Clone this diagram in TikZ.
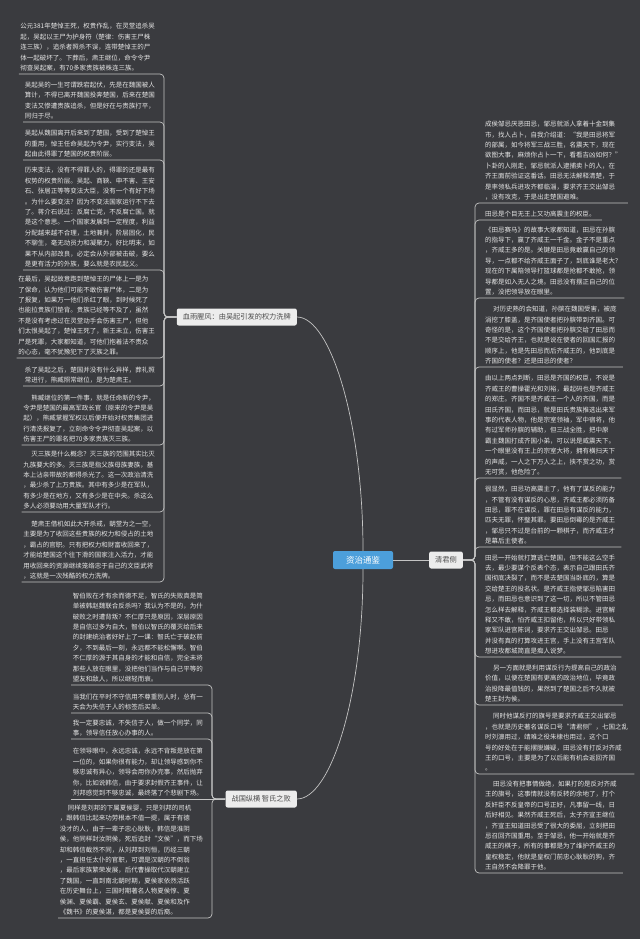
\documentclass[tikz,border=0pt]{standalone}
\usepackage{fontspec}
\setmainfont{Noto Sans CJK SC}
\usepackage{xcolor}
\usepackage{tikz}
\usetikzlibrary{positioning}

\definecolor{bgc}{HTML}{3A3B3F}
\definecolor{linec}{HTML}{C4C4C4}
\definecolor{notec}{HTML}{E6E6E6}
\definecolor{mainc}{HTML}{4C9FDB}
\definecolor{subc}{HTML}{ECECEC}
\newcommand{\firstind}{\hspace*{8pt}}

\begin{document}
\begin{tikzpicture}[
  x=1pt, y=-1pt,
  link/.style={draw=linec, line width=0.7pt, rounded corners=4pt},
  note/.style={font=\fontsize{6.5}{10.4}\selectfont, text=notec, align=left, inner xsep=0pt, inner ysep=2.6pt},
  lnote/.style={note, anchor=south east},
  rnote/.style={note, anchor=south west},
  topic/.style={fill=subc, text=black!70, rounded corners=2pt, font=\fontsize{7.2}{8}\selectfont, minimum height=17pt, inner xsep=6pt},
  central/.style={fill=mainc, text=white, rounded corners=2pt, font=\fontsize{8.5}{10}\selectfont, minimum height=18pt, minimum width=60pt}
]
\fill[bgc] (0,0) rectangle (640,939);
\useasboundingbox (0,0) rectangle (640,939);

% main topics
\node[central] (zz) at (363,560) {资治通鉴};
\node[topic, anchor=east] (xy) at (297,317) {血雨腥风：由吴起引发的权力洗牌};
\node[topic, anchor=east] (zj) at (297,799) {战国纵横 智氏之败};
\node[topic, anchor=west] (qjc) at (429,560) {清君侧};

\draw[link] (xy.east) .. controls +(33,0) and +(0,-130) .. (zz.north);
\draw[link] (zz.south) .. controls +(0,130) and +(33,0) .. (zj.east);
\draw[link] (zz.east) -- (qjc.west);

% 血雨腥风
\node[lnote] (a1) at (155,74) {公元381年楚悼王死，权贵作乱，在灵堂追杀吴\\起，吴起以王尸为护身符（楚律：伤害王尸株\\连三族），追杀者照杀不误，连带楚悼王的尸\\体一起破坏了。下葬后，肃王继位，命令令尹\\彻查吴起案，有70多家贵族被株连三族。};
\node[lnote] (a2) at (155,122) {吴起吴的一生可谓跌宕起伏，先是在魏国被人\\算计，不得已离开魏国投奔楚国，后来在楚国\\变法又惨遭贵族追杀，但是好在与贵族打平，\\同归于尽。};
\node[lnote] (a3) at (155,160) {吴起从魏国离开后来到了楚国，受到了楚悼王\\的重用，悼王任命吴起为令尹，实行变法，吴\\起由此得罪了楚国的权贵阶层。};
\node[lnote] (a4) at (155,270) {历来变法，没有不得罪人的，得罪的还是最有\\权势的权贵阶层。吴起、商鞅、申不害、王安\\石、张居正等等变法大臣，没有一个有好下场\\。为什么要变法？因为不变法国家运行不下去\\了。蒋介石说过：反腐亡党，不反腐亡国。就\\是这个意思。一个国家发展到一定程度，利益\\分配越来越不合理，土地兼并，阶层固化，民\\不聊生，毫无动员力和凝聚力，好比明末，如\\果不从内部改良，必定会从外部被击破，要么\\是更有活力的外族，要么就是农民起义。};
\node[lnote] (a5) at (155,358) {在最后，吴起故意跑到楚悼王的尸体上一是为\\了保命，认为他们可能不敢伤害尸体，二是为\\了报复，如果万一他们杀红了眼，到时候死了\\也能拉贵族们垫背。贵族已经等不及了，虽然\\不是没有考虑过在灵堂动手会伤害王尸，但他\\们太恨吴起了，楚悼王死了，新王未立，伤害王\\尸是死罪，大家都知道，可他们抱着法不责众\\的心态，毫不犹豫犯下了灭族之罪。};
\node[lnote] (a6) at (155,386) {杀了吴起之后，楚国并没有什么异样，葬礼照\\常进行，熊臧照常继位，是为楚肃王。};
\node[lnote] (a7) at (155,445) {\firstind 熊臧继位的第一件事，就是任命新的令尹，\\令尹是楚国的最高军政长官（原来的令尹是吴\\起），熊臧掌握军权以后便开始对权贵集团进\\行清洗报复了，立刻命令令尹彻查吴起案，以\\伤害王尸的罪名把70多家贵族灭三族。};
\node[lnote] (a8) at (155,512) {\firstind 灭三族是什么概念？灭三族的范围其实比灭\\九族要大的多。灭三族是指父族母族妻族，基\\本上沾亲带故的都得杀光了。这一次政治清洗\\，最少杀了上万贵族。其中有多少是在军队，\\有多少是在地方，又有多少是在中央。杀这么\\多人必须要动用大量军队才行。};
\node[lnote] (a9) at (155,582) {\firstind 楚肃王借机如此大开杀戒，朝堂为之一空，\\主要是为了收回这些贵族的权力和侵占的土地\\，霸占的官职。只有把权力和财富收回来了，\\才能给楚国这个往下滑的国家注入活力，才能\\用收回来的资源继续笼络忠于自己的文臣武将\\，这就是一次残酷的权力洗牌。};

\foreach \i in {1,...,9}
  \draw[link] (xy.west) -| ([xshift=9pt]a\i.south east) -- ([xshift=-1.5pt]a\i.south west);

% 智氏之败
\node[lnote] (b1) at (203,685) {智伯败在才有余而德不足，智氏的失败真是简\\单被韩赵魏联合反杀吗？我认为不是的，为什\\破败之时遭背叛？不仁厚只是原因，深层原因\\是自信过多为自大，智伯以智氏的覆灭给后来\\的封建统治者好好上了一课：智氏亡于破赵前\\夕，不到最后一刻，永远都不能松懈啊。智伯\\不仁厚的源于其自身的才能和自信，完全未将\\那些人放在眼里，没把他们当作与自己平等的\\盟友和敌人，所以继轻而衰。};
\node[lnote] (b2) at (203,713) {当我们在平时不守信用不尊重别人时，总有一\\天会为失信于人的标签后买单。};
\node[lnote] (b3) at (203,739) {我一定要忠诚，不失信于人，做一个同学，同\\事，领导信任放心办事的人。};
\node[lnote] (b4) at (203,799) {在领导眼中，永远忠诚，永远不背叛是放在第\\一位的，如果你很有能力，却让领导感到你不\\够忠诚有异心，领导会用你办完事，然后抛弃\\你，比如说韩信，由于要求封假齐王事件，让\\刘邦感觉到不够忠诚，最终落了个悲剧下场。};
\node[lnote] (b5) at (203,918) {\firstind 同样是刘邦的下属夏侯婴，只是刘邦的司机\\，跟韩信比起来功劳根本不值一提，属于有德\\没才的人，由于一辈子忠心耿耿，韩信是淮阴\\侯，他同样封汝阴侯，死后追封“文侯”，而下场\\却和韩信截然不同，从刘邦到刘恒，历经三朝\\，一直担任太仆的官职，可谓是汉朝的不倒翁\\，最后家族繁荣发展，后代曹操取代汉朝建立\\了魏国，一直到南北朝时期，夏侯家依然活跃\\在历史舞台上，三国时期著名人物夏侯惇、夏\\侯渊、夏侯霸、夏侯玄、夏侯献、夏侯和及作\\《魏书》的夏侯湛，都是夏侯婴的后裔。};

\foreach \i in {1,2,3,5}
  \draw[link] (zj.west) -| ([xshift=9pt]b\i.south east) -- ([xshift=-1.5pt]b\i.south west);
\draw[link] (zj.west) -- ([xshift=-1.5pt]b4.south west);

% 清君侧
\node[rnote] (c1) at (485,203) {成侯邹忌厌恶田忌，邹忌就派人拿着十金到集\\市，找人占卜，自我介绍道：“我是田忌将军\\的部属，如今将军三战三胜，名震天下，现在\\欲图大事，麻烦你占卜一下，看看吉凶如何？”\\卜卦的人刚走，邹忌就派人逮捕卖卜的人，在\\齐王面前验证这番话。田忌无法解释清楚，于\\是率领私兵进攻齐都临淄，要求齐王交出邹忌\\，没有攻克，于是出走楚国避难。};
\node[rnote] (c2) at (485,220) {田忌是个目无王上又功高震主的权臣。};
\node[rnote] (c3) at (485,298) {《田忌赛马》的故事大家都知道，田忌在孙膑\\的指导下，赢了齐威王一千金。金子不是重点\\，齐威王多的是。关键是田忌竟敢赢自己的领\\导，一点都不给齐威王面子了，到底谁是老大?\\现在的下属陪领导打篮球都是抢都不敢抢，领\\导都是如入无人之境。田忌没有摆正自己的位\\置，没把领导放在眼里。};
\node[rnote] (c4) at (485,367) {\firstind 对历史熟的会知道，孙膑在魏国受害，被庞\\涓挖了膝盖，是齐国使者把孙膑带到齐国。可\\奇怪的是，这个齐国使者把孙膑交给了田忌而\\不是交给齐王，也就是说在使者的回国汇报的\\顺序上，他是先田忌而后齐威王的，他到底是\\齐国的使者？还是田忌的使者？};
\node[rnote] (c5) at (485,478) {由以上两点判断，田忌是齐国的权臣，不说是\\齐威王的曹操霍光和刘裕，最起码也是齐威王\\的郑庄。齐国不是齐威王一个人的齐国，而是\\田氏齐国，而田忌，就是田氏贵族推选出来军\\事的代表人物，他是宗室领袖，军中宿将，他\\有过军师孙膑的辅助，但三战全胜，把中原\\霸主魏国打成齐国小弟，可以说是威震天下。\\一个眼里没有王上的宗室大将，拥有横扫天下\\的声威，一人之下万人之上，挟不赏之功，赏\\无可赏，他危险了。};
\node[rnote] (c6) at (485,547) {很显然，田忌功高震主了，他有了谋反的能力\\，不管有没有谋反的心思，齐威王都必须防备\\田忌，罪不在谋反，罪在田忌有谋反的能力，\\匹夫无罪，怀璧其罪。要田忌倒霉的是齐威王\\，邹忌只不过是台前的一颗棋子，而齐威王才\\是幕后主使者。};
\node[rnote] (c7) at (485,657) {田忌一开始就打算逃亡楚国，但不能这么空手\\去，最少要谋个反表个态，表示自己跟田氏齐\\国彻底决裂了，而不是去楚国当卧底的，算是\\交给楚王的投名状。是齐威王指使邹忌陷害田\\忌，而田忌也意识到了这一切，所以不管田忌\\怎么样去解释，齐威王都选择装糊涂。进宫解\\释又不敢，怕齐威王扣留他，所以只好带领私\\家军队进宫陈词，要求齐王交出邹忌。田忌\\并没有真的打算攻进王宫，手上没有王宫军队\\想进攻都城简直是痴人说梦。};
\node[rnote] (c8) at (485,705) {\firstind 另一方面就是利用谋反行为提高自己的政治\\价值，以便在楚国有更高的政治地位，毕竟政\\治投降最值钱的，果然到了楚国之后不久就被\\楚王封为侯。};
\node[rnote] (c9) at (485,774) {\firstind 同时他谋反打的旗号是要求齐威王交出邹忌\\，也就是历史著名谋反口号“清君侧”，七国之乱\\时刘濞用过，靖难之役朱棣也用过，这个口\\号的好处在于能摆脱嫌疑，田忌没有打反对齐威\\王的口号，主要是为了以后能有机会返回齐国\\。};
\node[rnote] (c10) at (485,873) {\firstind 田忌没有把事情做绝，如果打的是反对齐威\\王的旗号，这事情就没有反转的余地了，打个\\反奸臣不反皇帝的口号正好，凡事留一线，日\\后好相见。果然齐威王死后，太子齐宣王继位\\，齐宣王知道田忌受了很大的委屈，立刻把田\\忌召回齐国重用。至于邹忌，他一开始就是齐\\威王的棋子，所有的事都是为了维护齐威王的\\皇权稳定，他就是皇权门前忠心耿耿的狗，齐\\王自然不会降罪于他。};

\foreach \i in {1,...,10}
  \draw[link] (qjc.east) -| ([xshift=-10pt]c\i.south west) -- ([xshift=6pt]c\i.south east);
\end{tikzpicture}
\end{document}
